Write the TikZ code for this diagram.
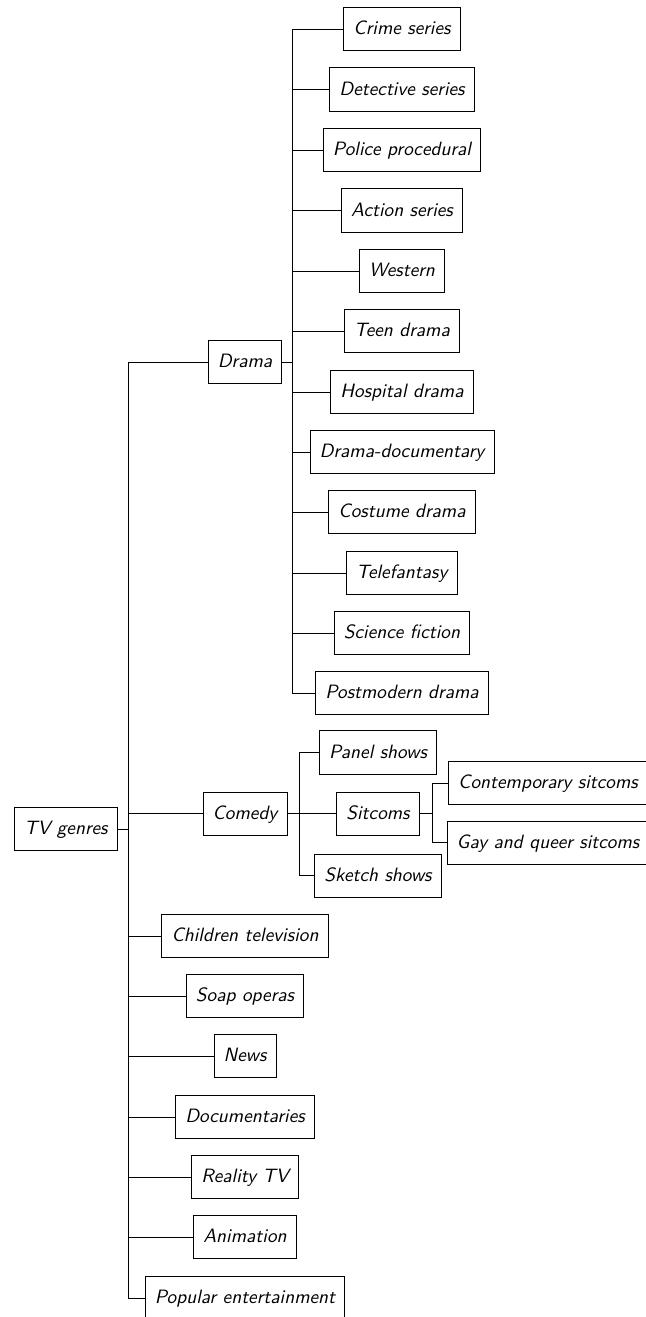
\documentclass[tikz,border=0pt]{standalone}

\tikzset{
  genre/.style={draw, font=\sffamily\itshape, inner xsep=5pt, inner ysep=6.2pt,
    text height=8pt, text depth=2pt}
}

\begin{document}
\begin{tikzpicture}[x=0.518pt, y=-0.518pt]
    \useasboundingbox (0, 0) rectangle (645, 1317);

    % Root
    \node[genre] (tv) at (66, 829) {TV genres};

    % First level
    \node[genre] (drama) at (245, 362) {Drama};
    \node[genre] (comedy) at (245, 813.5) {Comedy};
    \node[genre] (children) at (245, 936) {Children television};
    \node[genre] (soap) at (245, 996) {Soap operas};
    \node[genre] (news) at (245, 1056) {News};
    \node[genre] (docu) at (245, 1117) {Documentaries};
    \node[genre] (reality) at (245, 1177) {Reality TV};
    \node[genre] (animation) at (245, 1237) {Animation};
    \node[genre] (popular) at (245, 1298) {Popular entertainment};
    \foreach \n in {drama, comedy, children, soap, news, docu, reality, animation, popular}
        \draw (tv.east) -- ++(11, 0) |- (\n.west);

    % Drama
    \node[genre] (crime) at (402, 29) {Crime series};
    \node[genre] (detective) at (402, 89.5) {Detective series};
    \node[genre] (police) at (402, 150) {Police procedural};
    \node[genre] (action) at (402, 210.5) {Action series};
    \node[genre] (western) at (402, 271) {Western};
    \node[genre] (teen) at (402, 331) {Teen drama};
    \node[genre] (hospital) at (402, 392) {Hospital drama};
    \node[genre] (dramadoc) at (402, 452) {Drama-documentary};
    \node[genre] (costume) at (402, 512) {Costume drama};
    \node[genre] (telefantasy) at (402, 573) {Telefantasy};
    \node[genre] (scifi) at (402, 633) {Science fiction};
    \node[genre] (postmodern) at (402, 693) {Postmodern drama};
    \foreach \n in {crime, detective, police, action, western, teen, hospital,
                    dramadoc, costume, telefantasy, scifi, postmodern}
        \draw (drama.east) -- ++(10, 0) |- (\n.west);

    % Comedy
    \node[genre] (panel) at (378, 752.5) {Panel shows};
    \node[genre] (sitcoms) at (378, 813.5) {Sitcoms};
    \node[genre] (sketch) at (378, 875.5) {Sketch shows};
    \foreach \n in {panel, sitcoms, sketch}
        \draw (comedy.east) -- ++(12, 0) |- (\n.west);

    % Sitcoms
    \node[genre] (contemporary) at (548, 783) {Contemporary sitcoms};
    \node[genre] (queer) at (548, 842.5) {Gay and queer sitcoms};
    \foreach \n in {contemporary, queer}
        \draw (sitcoms.east) -- ++(13, 0) |- (\n.west);

\end{tikzpicture}
\end{document}
